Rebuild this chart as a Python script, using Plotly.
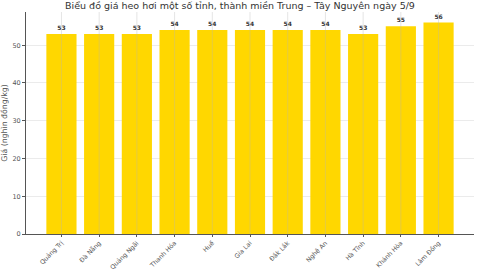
import plotly.graph_objects as go

provinces = ["Quảng Trị", "Đà Nẵng", "Quảng Ngãi", "Thanh Hóa", "Huế", "Gia Lai",
             "Đắk Lắk", "Nghệ An", "Hà Tĩnh", "Khánh Hòa", "Lâm Đồng"]
prices = [53, 53, 53, 54, 54, 54, 54, 54, 53, 55, 56]

title_text = "Biểu đồ giá heo hơi một số tỉnh, thành miền Trung – Tây Nguyên ngày 5/9"
y_title = "Giá (nghìn đồng/kg)"

FONT = "DejaVu Sans"
GOLD = "#FFD700"

fig = go.Figure()
fig.add_trace(go.Bar(
    x=list(range(len(provinces))), y=prices,
    marker=dict(color=GOLD, line=dict(width=0)),
    width=0.8,
    text=[str(v) for v in prices], textposition="outside",
    textfont=dict(family=FONT, size=6, color="#333333"),
    texttemplate="<b>%{text}</b>",
    cliponaxis=False,
))

# vertical grid lines drawn over bars (as in reference)
for i in range(len(provinces)):
    fig.add_shape(type="line", xref="x", yref="paper", x0=i, x1=i, y0=0, y1=1,
                  line=dict(color="rgba(180,180,180,0.45)", width=0.8), layer="above")

fig.update_layout(
    width=480, height=270,
    margin=dict(l=26, r=6, t=12, b=36, autoexpand=False),
    plot_bgcolor="white", paper_bgcolor="white",
    font=dict(family=FONT, size=6.5, color="#555555"),
    title=dict(text=title_text, x=0.5, xanchor="center", y=0.99, yanchor="top",
               font=dict(family=FONT, size=9.5, color="#333333")),
    showlegend=False,
    bargap=0.2,
)
fig.update_xaxes(
    range=[-0.94, 10.94], automargin=False,
    tickmode="array", tickvals=list(range(len(provinces))), ticktext=provinces,
    tickangle=-45, tickfont=dict(family=FONT, size=6.3, color="#555555"),
    showgrid=False, showline=True, linecolor="#555555", linewidth=1,
    ticks="outside", ticklen=2, tickcolor="#555555", zeroline=False,
)
fig.update_yaxes(
    range=[0, 58.8], tickvals=[0, 10, 20, 30, 40, 50], automargin=False,
    tickfont=dict(family=FONT, size=6.5, color="#555555"),
    title=dict(text=y_title, font=dict(family=FONT, size=7.8, color="#555555"), standoff=3),
    showgrid=True, gridcolor="#ebebeb", gridwidth=0.8,
    showline=True, linecolor="#555555", linewidth=1,
    ticks="outside", ticklen=3, tickcolor="#555555", zeroline=False,
)

fig.write_html("out.html")
